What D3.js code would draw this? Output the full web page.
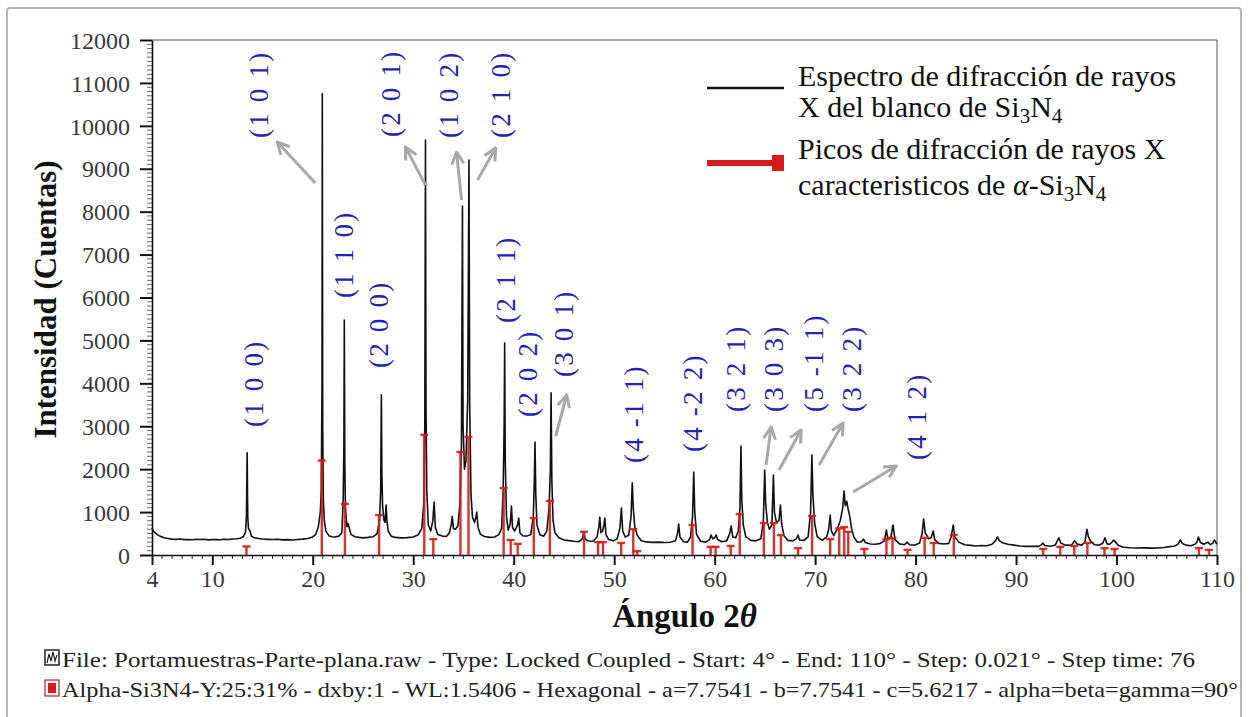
<!DOCTYPE html>
<html>
<head>
<meta charset="utf-8">
<script src="https://cdn.jsdelivr.net/npm/d3@7"></script>
<style>
  body { margin: 0; background: #fff; }
  svg { display: block; }
  svg text { font-family: "Liberation Serif", "Times New Roman", "DejaVu Serif", serif; }
</style>
</head>
<body>
<svg id="chart" width="1250" height="717"></svg>
<script>
// measured pattern: [2theta, counts]
var spectrum = [
  [4.0, 620], [4.15, 560], [4.3, 520], [4.5, 480], [4.7, 450], [4.95, 425], [5.2, 400], [5.6, 385], [6.0, 370],
  [6.4, 365], [6.8, 372], [7.2, 358], [7.6, 362], [8.0, 355], [8.4, 368], [8.8, 360], [9.2, 366], [9.6, 352],
  [10.0, 358], [10.4, 362], [10.8, 355], [11.2, 368], [11.6, 362], [12.0, 372], [12.4, 378], [12.8, 392],
  [13.1, 430], [13.3, 520], [13.4, 900], [13.47, 2380], [13.53, 900], [13.6, 620], [13.75, 560], [13.9, 440],
  [14.2, 400], [14.6, 385], [15.0, 372], [15.5, 365], [16.0, 360], [16.5, 368], [17.0, 352], [17.5, 358],
  [18.0, 350], [18.5, 362], [19.0, 370], [19.5, 385], [20.0, 420], [20.3, 480], [20.55, 650], [20.75, 1000],
  [20.85, 1500], [20.92, 4000], [20.95, 10750], [20.99, 3000], [21.05, 1300], [21.15, 800], [21.3, 560],
  [21.6, 450], [21.9, 425], [22.2, 420], [22.6, 440], [22.9, 520], [23.03, 1300], [23.1, 2600], [23.14, 5475],
  [23.19, 2200], [23.25, 1100], [23.4, 660], [23.52, 730], [23.62, 640], [23.8, 480], [24.2, 425], [24.6, 410],
  [25.0, 400], [25.5, 410], [26.0, 425], [26.4, 500], [26.65, 800], [26.76, 1500], [26.83, 3730], [26.88, 1900],
  [26.95, 1150], [27.08, 820], [27.2, 760], [27.3, 1165], [27.38, 820], [27.5, 560], [27.8, 440], [28.2, 410],
  [28.8, 400], [29.4, 405], [30.0, 420], [30.5, 470], [30.85, 620], [31.05, 1200], [31.15, 3000], [31.22, 9670],
  [31.27, 3500], [31.35, 1500], [31.5, 700], [31.75, 560], [31.95, 800], [32.08, 1235], [32.2, 640],
  [32.45, 480], [32.9, 440], [33.3, 430], [33.6, 520], [33.78, 700], [33.88, 900], [34.0, 620], [34.2, 600],
  [34.45, 680], [34.65, 1200], [34.8, 2600], [34.9, 8130], [34.96, 3000], [35.1, 2000], [35.25, 2200],
  [35.42, 3600], [35.55, 9200], [35.62, 3500], [35.75, 1400], [35.9, 880], [36.1, 760], [36.25, 900],
  [36.32, 1000], [36.45, 640], [36.7, 480], [37.1, 430], [37.6, 410], [38.1, 420], [38.5, 470], [38.8, 620],
  [38.95, 1500], [39.05, 3000], [39.1, 4940], [39.16, 2200], [39.28, 900], [39.45, 580], [39.65, 720],
  [39.78, 1140], [39.88, 640], [40.1, 560], [40.38, 700], [40.5, 860], [40.62, 520], [40.9, 450], [41.3, 440],
  [41.7, 480], [41.95, 900], [42.05, 1700], [42.12, 2630], [42.2, 1400], [42.32, 700], [42.6, 470],
  [43.0, 440], [43.3, 560], [43.52, 1100], [43.65, 2000], [43.72, 3780], [43.8, 1700], [43.92, 800],
  [44.1, 520], [44.5, 400], [45.0, 350], [45.5, 335], [46.0, 320], [46.5, 312], [46.85, 380], [46.98, 540],
  [47.1, 380], [47.4, 325], [47.9, 320], [48.3, 420], [48.48, 660], [48.57, 885], [48.68, 520], [48.85, 560],
  [48.98, 700], [49.07, 860], [49.18, 480], [49.45, 360], [49.9, 330], [50.3, 380], [50.58, 640], [50.72, 1095],
  [50.85, 560], [51.1, 420], [51.45, 460], [51.68, 900], [51.8, 1680], [51.9, 1100], [52.05, 650], [52.3, 460],
  [52.7, 330], [53.2, 305], [53.8, 295], [54.4, 300], [55.0, 290], [55.6, 298], [56.1, 330], [56.32, 520],
  [56.42, 720], [56.55, 420], [56.9, 310], [57.3, 300], [57.6, 420], [57.8, 900], [57.92, 1930], [58.02, 1000],
  [58.2, 480], [58.6, 320], [59.1, 300], [59.5, 360], [59.65, 465], [59.8, 380], [60.0, 400], [60.15, 465],
  [60.3, 360], [60.7, 310], [61.2, 330], [61.5, 500], [61.65, 675], [61.8, 420], [62.1, 400], [62.35, 560],
  [62.52, 1100], [62.62, 2540], [62.7, 1300], [62.85, 700], [63.1, 430], [63.6, 340], [64.1, 330],
  [64.6, 380], [64.85, 800], [64.98, 1980], [65.08, 1200], [65.25, 760], [65.45, 600], [65.7, 700],
  [65.85, 1865], [65.95, 1000], [66.15, 760], [66.4, 800], [66.55, 1165], [66.68, 700], [66.9, 450],
  [67.3, 340], [67.8, 330], [68.15, 380], [68.3, 465], [68.45, 350], [68.9, 340], [69.3, 420], [69.55, 1000],
  [69.68, 2330], [69.78, 1400], [69.95, 750], [70.2, 430], [70.7, 340], [71.15, 420], [71.35, 600],
  [71.5, 930], [71.62, 560], [71.85, 450], [72.2, 600], [72.5, 800], [72.75, 1100], [72.88, 1490],
  [73.0, 1150], [73.15, 1250], [73.3, 1050], [73.45, 900], [73.6, 650], [73.85, 420], [74.2, 300],
  [74.6, 310], [74.82, 370], [75.0, 290], [75.5, 255], [76.0, 250], [76.5, 270], [76.9, 330], [77.1, 580],
  [77.25, 360], [77.55, 420], [77.75, 700], [77.95, 360], [78.4, 260], [78.9, 240], [79.15, 300], [79.4, 240],
  [79.9, 230], [80.4, 280], [80.65, 500], [80.8, 840], [80.95, 520], [81.3, 380], [81.55, 400], [81.75, 560],
  [81.9, 360], [82.3, 270], [82.8, 255], [83.3, 270], [83.55, 430], [83.75, 700], [83.9, 420], [84.3, 300],
  [84.9, 240], [85.5, 225], [86.0, 210], [86.6, 220], [87.1, 215], [87.6, 250], [87.95, 330], [88.15, 420],
  [88.35, 330], [88.7, 280], [89.2, 250], [89.8, 230], [90.4, 210], [91.0, 200], [91.6, 205], [92.2, 200],
  [92.5, 230], [92.65, 280], [92.85, 220], [93.4, 205], [93.9, 230], [94.25, 400], [94.45, 280], [94.9, 230],
  [95.5, 225], [95.85, 330], [96.05, 260], [96.5, 225], [96.85, 300], [97.05, 600], [97.2, 430], [97.4, 330],
  [97.8, 240], [98.3, 230], [98.65, 280], [98.85, 400], [99.05, 260], [99.3, 250], [99.55, 300], [99.72, 350],
  [99.9, 300], [100.2, 220], [100.7, 180], [101.3, 170], [102.0, 162], [102.7, 165], [103.4, 160],
  [104.1, 162], [104.7, 175], [105.3, 195], [105.8, 210], [106.15, 260], [106.35, 350], [106.55, 270],
  [106.9, 230], [107.4, 215], [107.8, 250], [108.0, 300], [108.15, 420], [108.35, 290], [108.7, 250],
  [109.1, 300], [109.35, 240], [109.6, 280], [109.75, 350], [109.9, 280], [110.0, 260]
];

// reference alpha-Si3N4 stick pattern
var stickAngles = [13.4, 20.9, 23.2, 26.6, 31.1, 32.0, 34.7, 35.5, 39.0, 39.7, 40.4, 42.0, 43.6, 47.0,
  48.4, 48.9, 50.7, 51.9, 52.3, 57.8, 59.6, 60.1, 61.6, 62.5, 64.9, 65.9, 66.6, 68.3, 69.7, 71.5, 72.4,
  72.9, 73.3, 74.9, 77.1, 77.7, 79.2, 80.9, 81.8, 83.8, 92.7, 94.4, 95.8, 97.1, 98.8, 99.8, 108.2, 109.2];
var stickCounts = [200, 2200, 1190, 930, 2800, 370, 2400, 2750, 1560, 350, 260, 860, 1260, 540,
  300, 300, 280, 600, 90, 700, 190, 190, 210, 955, 745, 745, 465, 160, 910, 370, 620,
  650, 540, 140, 370, 400, 120, 400, 280, 465, 140, 190, 210, 280, 160, 140, 160, 120];

// Miller index labels (text bottom at [angle, counts])
var hklText = ["(1 0 0)", "(1 0 1)", "(1 1 0)", "(2 0 0)", "(2 0 1)", "(1 0 2)", "(2 1 0)", "(2 1 1)",
  "(2 0 2)", "(3 0 1)", "(4 -1 1)", "(4 -2 2)", "(3 2 1)", "(3 0 3)", "(5 -1 1)", "(3 2 2)", "(4 1 2)"];
var hklAngle = [14.07, 14.57, 23.04, 26.53, 27.73, 33.51, 38.7, 39.19, 41.39, 44.98, 51.96, 57.84,
  62.13, 65.91, 69.8, 73.59, 80.07];
var hklCount = [2982, 9716, 5988, 4357, 9739, 9716, 9716, 5405, 3215, 4147, 2144, 2400,
  3332, 3332, 3332, 3332, 2213];

// pointer arrows, tail -> head, in [angle, counts]
var arrowFrom = [[20.25, 8667], [31.22, 8621], [34.81, 8271], [36.4, 8737], [44.18, 2773],
  [65.12, 2097], [66.41, 1980], [70.4, 2097], [73.79, 1468]];
var arrowTo = [[16.46, 9622], [29.22, 9506], [34.31, 9390], [38.2, 9483], [45.28, 3728],
  [65.62, 2982], [68.61, 2912], [72.79, 3075], [78.08, 2074]];

var xTicks = [4, 10, 20, 30, 40, 50, 60, 70, 80, 90, 100, 110];
var yTicks = [0, 1000, 2000, 3000, 4000, 5000, 6000, 7000, 8000, 9000, 10000, 11000, 12000];

var serif = "'Liberation Serif', 'Times New Roman', 'DejaVu Serif', serif";
var svg = d3.select("#chart");
var margin = {top: 40, right: 33, bottom: 162, left: 152};
var width = 1250 - margin.left - margin.right,
    height = 717 - margin.top - margin.bottom;

var xScale = d3.scaleLinear().domain([4, 110]).range([margin.left, margin.left + width]);
var yScale = d3.scaleLinear().domain([0, 12000]).range([margin.top + height, margin.top]);

var red = "#d41c1c", blue = "#2222b4", grey = "#a8a8a8";

// outer frame
svg.append("rect")
    .attr("x", 7).attr("y", 8).attr("width", 1234).attr("height", 730).attr("rx", 3)
    .attr("fill", "none").attr("stroke", "#b4b4b4").attr("stroke-width", 2);

// plot box (top + right)
svg.append("path")
    .attr("d", "M" + xScale(4) + "," + yScale(12000) + "H" + xScale(110) + "V" + yScale(0))
    .attr("fill", "none").attr("stroke", "#555").attr("stroke-width", 1);

// minor ticks
var minorX = d3.range(5, 110, 1).filter(function (d) { return d % 10 !== 0; });
svg.append("g").selectAll("line").data(minorX).enter().append("line")
    .attr("x1", function (d) { return xScale(d); }).attr("x2", function (d) { return xScale(d); })
    .attr("y1", yScale(0)).attr("y2", yScale(0) + 4)
    .attr("stroke", "#222").attr("stroke-width", 1);
var minorY = d3.range(100, 12000, 100).filter(function (d) { return d % 1000 !== 0; });
svg.append("g").selectAll("line").data(minorY).enter().append("line")
    .attr("y1", function (d) { return yScale(d); }).attr("y2", function (d) { return yScale(d); })
    .attr("x1", xScale(4) - 5).attr("x2", xScale(4))
    .attr("stroke", "#444").attr("stroke-width", 0.8);

// axes
var xAxis = d3.axisBottom(xScale).tickValues(xTicks).tickSize(10).tickSizeOuter(0).tickPadding(5);
var yAxis = d3.axisLeft(yScale).tickValues(yTicks).tickSize(12).tickSizeOuter(0).tickPadding(10)
    .tickFormat(d3.format("d"));

var gx = svg.append("g").attr("transform", "translate(0," + yScale(0) + ")").call(xAxis);
var gy = svg.append("g").attr("transform", "translate(" + xScale(4) + ",0)").call(yAxis);
[gx, gy].forEach(function (g) {
    g.attr("font-family", serif).attr("font-size", 24);
    g.select(".domain").attr("stroke", "#111").attr("stroke-width", 1.6);
    g.selectAll(".tick line").attr("stroke", "#111").attr("stroke-width", 2);
    g.selectAll(".tick text").attr("fill", "#3a3a3a");
});
gy.selectAll(".tick text").attr("dy", "0.34em");
gx.selectAll(".tick text").attr("dy", "0.72em");

// axis titles
svg.append("text")
    .attr("transform", "translate(45," + (margin.top + height / 2 + 2) + ") rotate(-90)")
    .attr("text-anchor", "middle").attr("dy", "0.35em")
    .attr("font-size", 31).attr("font-weight", "bold").attr("fill", "#111")
    .text("Intensidad (Cuentas)");
var xt = svg.append("text")
    .attr("x", xScale(57)).attr("y", 627)
    .attr("text-anchor", "middle")
    .attr("font-size", 33).attr("font-weight", "bold").attr("fill", "#111");
xt.append("tspan").text("Ángulo 2");
xt.append("tspan").attr("font-style", "italic").text("θ");

// spectrum
var line = d3.line()
    .x(function (d) { return xScale(d[0]); })
    .y(function (d) { return yScale(d[1]); });
svg.append("path").datum(spectrum)
    .attr("d", line).attr("fill", "none").attr("stroke", "#111").attr("stroke-width", 1.6)
    .attr("stroke-linejoin", "round");

// stick pattern
var sticks = stickAngles.map(function (a, i) { return {a: a, c: stickCounts[i]}; });
var gs = svg.append("g");
gs.selectAll(".stick").data(sticks).enter().append("line")
    .attr("class", "stick")
    .attr("x1", function (d) { return xScale(d.a); }).attr("x2", function (d) { return xScale(d.a); })
    .attr("y1", yScale(0)).attr("y2", function (d) { return yScale(d.c); })
    .attr("stroke", red).attr("stroke-width", 2.4).attr("opacity", 0.9);
gs.selectAll(".cap").data(sticks).enter().append("line")
    .attr("class", "cap")
    .attr("x1", function (d) { return xScale(d.a) - 4; }).attr("x2", function (d) { return xScale(d.a) + 4; })
    .attr("y1", function (d) { return yScale(d.c); }).attr("y2", function (d) { return yScale(d.c); })
    .attr("stroke", red).attr("stroke-width", 2.4).attr("opacity", 0.9);

// arrows
svg.append("defs").append("marker")
    .attr("id", "head").attr("viewBox", "0 0 10 10").attr("refX", 9).attr("refY", 5)
    .attr("markerWidth", 5).attr("markerHeight", 5).attr("orient", "auto")
    .append("path").attr("d", "M1,1 L9,5 L1,9").attr("fill", "none")
    .attr("stroke", grey).attr("stroke-width", 2);
svg.append("g").selectAll("line").data(arrowFrom).enter().append("line")
    .attr("x1", function (d) { return xScale(d[0]); }).attr("y1", function (d) { return yScale(d[1]); })
    .attr("x2", function (d, i) { return xScale(arrowTo[i][0]); })
    .attr("y2", function (d, i) { return yScale(arrowTo[i][1]); })
    .attr("stroke", grey).attr("stroke-width", 3).attr("marker-end", "url(#head)");

// hkl labels
svg.append("g").selectAll("text").data(hklText).enter().append("text")
    .attr("transform", function (d, i) {
        return "translate(" + xScale(hklAngle[i]) + "," + yScale(hklCount[i]) + ") rotate(-90)";
    })
    .attr("dy", "0.35em").attr("text-anchor", "start")
    .attr("font-size", 27).attr("letter-spacing", 2.2).attr("fill", blue)
    .text(function (d) { return d; });

// legend
var lg = svg.append("g");
lg.append("line").attr("x1", 707).attr("x2", 784).attr("y1", 88).attr("y2", 88)
    .attr("stroke", "#111").attr("stroke-width", 2.5);
lg.append("line").attr("x1", 707).attr("x2", 776).attr("y1", 163).attr("y2", 163)
    .attr("stroke", red).attr("stroke-width", 6);
lg.append("rect").attr("x", 772).attr("y", 155).attr("width", 12).attr("height", 16).attr("fill", red);

function legendLine(y, parts) {
    var t = lg.append("text").attr("x", 798).attr("y", y).attr("font-size", 30).attr("fill", "#111");
    parts.forEach(function (p) {
        var s = t.append("tspan").text(p.t);
        if (p.sub) s.attr("font-size", 21).attr("dy", 6);
        if (p.up) s.attr("dy", -6);
        if (p.it) s.attr("font-style", "italic");
    });
}
legendLine(86, [{t: "Espectro de difracción de rayos"}]);
legendLine(117, [{t: "X del blanco de Si"}, {t: "3", sub: true}, {t: "N", up: true}, {t: "4", sub: true}]);
legendLine(159, [{t: "Picos de difracción de rayos X"}]);
legendLine(195, [{t: "caracteristicos de "}, {t: "α", it: true}, {t: "-Si"}, {t: "3", sub: true},
    {t: "N", up: true}, {t: "4", sub: true}]);

// footer
var ft = svg.append("g");
ft.append("rect").attr("x", 45).attr("y", 650).attr("width", 14).attr("height", 15)
    .attr("fill", "#fff").attr("stroke", "#222").attr("stroke-width", 1.5);
ft.append("path").attr("d", "M47,663 L49,654 L51,661 L53,652 L55,661 L57,655")
    .attr("fill", "none").attr("stroke", "#222").attr("stroke-width", 1.2);
ft.append("rect").attr("x", 45).attr("y", 680).attr("width", 14).attr("height", 16)
    .attr("fill", "#fff").attr("stroke", "#b02020").attr("stroke-width", 1.2);
ft.append("rect").attr("x", 48).attr("y", 683).attr("width", 8).attr("height", 10).attr("fill", red);
ft.append("text").attr("x", 62).attr("y", 667).attr("font-size", 21).attr("fill", "#222")
    .attr("textLength", 1133).attr("lengthAdjust", "spacingAndGlyphs")
    .text("File: Portamuestras-Parte-plana.raw - Type: Locked Coupled - Start: 4° - End: 110° - Step: 0.021° - Step time: 76");
ft.append("text").attr("x", 62).attr("y", 697).attr("font-size", 21).attr("fill", "#222")
    .attr("textLength", 1176).attr("lengthAdjust", "spacingAndGlyphs")
    .text("Alpha-Si3N4-Y:25:31% - dxby:1 - WL:1.5406 - Hexagonal - a=7.7541 - b=7.7541 - c=5.6217 - alpha=beta=gamma=90°");
</script>
</body>
</html>
